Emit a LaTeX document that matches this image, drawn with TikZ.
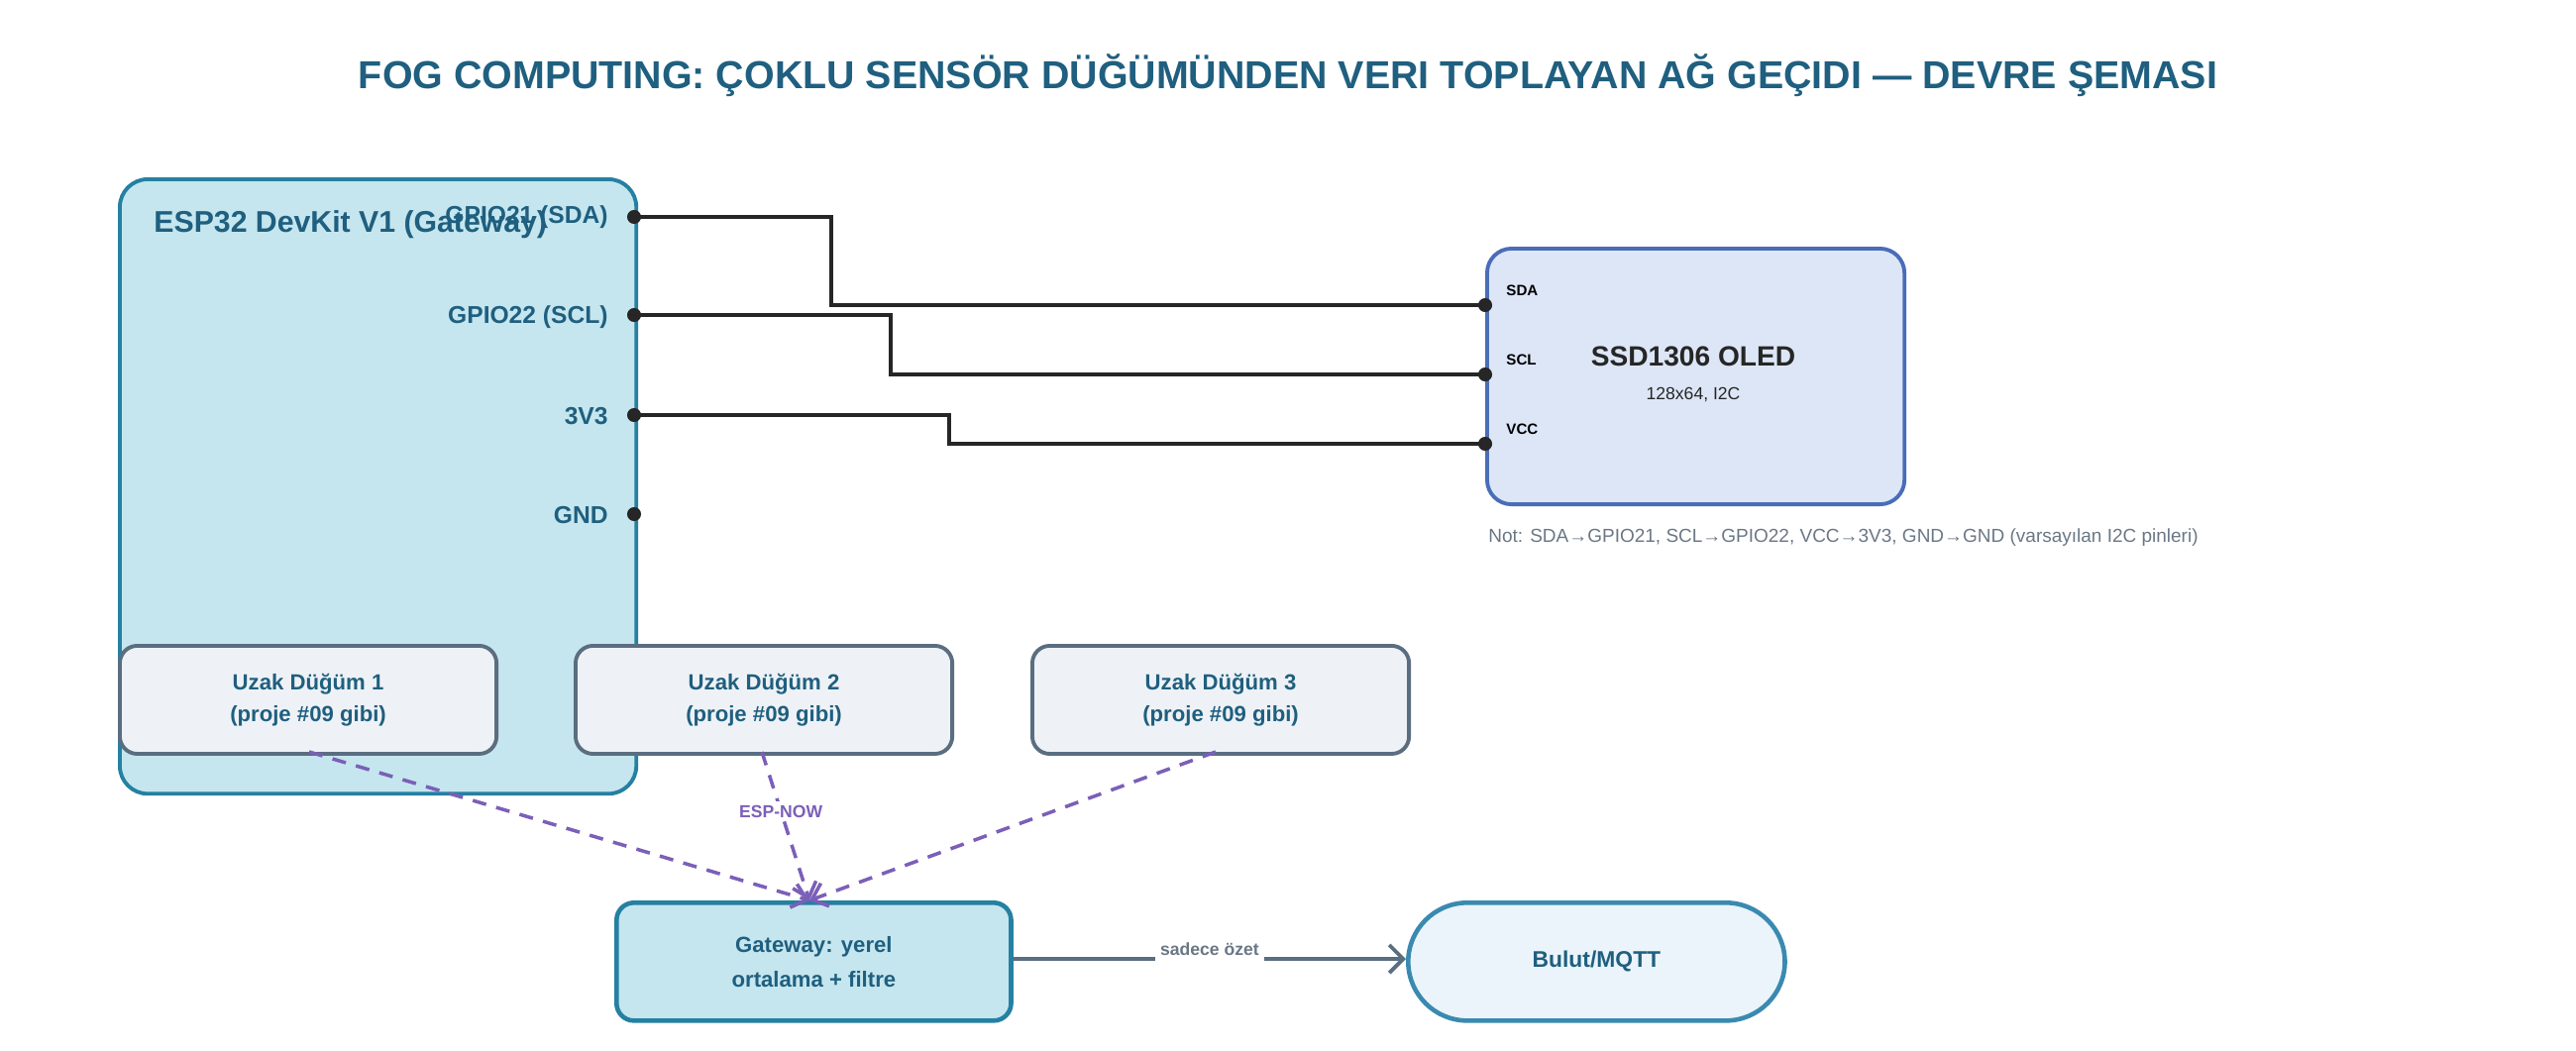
\documentclass[tikz,border=0pt]{standalone}
\usepackage{fontspec}
\setmainfont{Liberation Sans}
\usetikzlibrary{arrows.meta, positioning, calc}

\definecolor{titleblue}{HTML}{1F5F7F}
\definecolor{espfill}{HTML}{C5E6EE}
\definecolor{espdraw}{HTML}{2580A2}
\definecolor{nodefill}{HTML}{EEF2F6}
\definecolor{nodedraw}{HTML}{5A6E80}
\definecolor{oledfill}{HTML}{DDE6F6}
\definecolor{oleddraw}{HTML}{4A6DB8}
\definecolor{cloudfill}{HTML}{EAF4FA}
\definecolor{clouddraw}{HTML}{3A8AB0}
\definecolor{espnow}{HTML}{7B5FB8}
\definecolor{notegray}{HTML}{6A7785}

\begin{document}
\begin{tikzpicture}[
    x=0.01cm, y=-0.01cm,
    board/.style={
        rectangle,
        draw=espdraw,
        fill=espfill,
        line width=1.1pt,
        rounded corners=8pt,
        anchor=north west
    },
    remote_node/.style={
        rectangle,
        draw=nodedraw,
        fill=nodefill,
        line width=1.1pt,
        rounded corners=5pt,
        minimum width=3.8cm,
        minimum height=1.09cm,
        align=center,
        text=titleblue,
        font=\fontsize{6.3}{9}\selectfont\bfseries
    },
    pin_label/.style={
        text=titleblue,
        font=\fontsize{7}{8}\selectfont\bfseries
    },
    oled_pin/.style={
        font=\fontsize{4.3}{5}\selectfont\bfseries,
        anchor=west
    },
    pin_dot/.style={circle, fill=black!85, inner sep=0pt, minimum size=4pt},
    wire/.style={line width=0.9pt, black!85},
    radio/.style={espnow, line width=1pt, dash pattern=on 4pt off 3pt, -{Straight Barb[length=4pt,width=7pt]}},
    arrow/.style={nodedraw, line width=1.1pt, -{Straight Barb[length=4pt,width=8pt]}}
]
    \useasboundingbox (0,0) rectangle (2600,1060);

    % Title
    \node[text=titleblue, font=\fontsize{11.2}{13}\selectfont\bfseries] (title) at (1300,76)
        {FOG COMPUTING: ÇOKLU SENSÖR DÜĞÜMÜNDEN VERI TOPLAYAN AĞ GEÇIDI — DEVRE ŞEMASI};

    % ESP32 board
    \node[board, minimum width=5.21cm, minimum height=6.2cm] (esp) at (119,179) {};
    \node[pin_label, anchor=west, font=\fontsize{8.6}{10}\selectfont\bfseries] (esptitle) at (143,227)
        {ESP32 DevKit V1 (Gateway)};

    % ESP32 pins
    \coordinate (sda) at (640,219);
    \coordinate (scl) at (640,318);
    \coordinate (vcc) at (640,419);
    \coordinate (gnd) at (640,519);
    \node[pin_label, anchor=east] (lsda) at (626,219) {GPIO21 (SDA)};
    \node[pin_label, anchor=east] (lscl) at (626,320) {GPIO22 (SCL)};
    \node[pin_label, anchor=east] (lvcc) at (626,420) {3V3};
    \node[pin_label, anchor=east] (lgnd) at (626,520) {GND};

    % OLED module
    \node[rectangle, draw=oleddraw, fill=oledfill, line width=1.1pt, rounded corners=7pt,
          anchor=north west, minimum width=4.21cm, minimum height=2.58cm] (oled) at (1499,249) {};
    \node[font=\fontsize{8}{9}\selectfont\bfseries, text=black!85] (oledtitle) at (1709,360) {SSD1306 OLED};
    \node[font=\fontsize{5}{6}\selectfont, text=black!85] (oledsub) at (1709,398) {128x64, I2C};
    \coordinate (osda) at (1499,308);
    \coordinate (oscl) at (1499,378);
    \coordinate (ovcc) at (1499,448);
    \node[oled_pin] (losda) at (1508,293) {SDA};
    \node[oled_pin] (loscl) at (1508,363) {SCL};
    \node[oled_pin] (lovcc) at (1508,433) {VCC};
    \node[anchor=west, text=notegray, font=\fontsize{5.4}{6}\selectfont] (note) at (1490,543)
        {Not: SDA→GPIO21, SCL→GPIO22, VCC→3V3, GND→GND (varsayılan I2C pinleri)};

    % Wires
    \draw[wire] (sda) -| (839,308) -- (osda);
    \draw[wire] (scl) -| (899,378) -- (oscl);
    \draw[wire] (vcc) -| (958,448) -- (ovcc);
    \foreach \p in {sda,scl,vcc,gnd,osda,oscl,ovcc}
        \node[pin_dot] at (\p) {};

    % Remote nodes
    \node[remote_node, anchor=north west] (rem1) at (119,650) {Uzak Düğüm 1\\(proje \#09 gibi)};
    \node[remote_node, anchor=north west] (rem2) at (579,650) {Uzak Düğüm 2\\(proje \#09 gibi)};
    \node[remote_node, anchor=north west] (rem3) at (1040,650) {Uzak Düğüm 3\\(proje \#09 gibi)};

    % Gateway and cloud
    \node[rectangle, draw=espdraw, fill=espfill, line width=1.3pt, rounded corners=5pt,
          minimum width=3.98cm, minimum height=1.19cm, align=center, text=titleblue,
          font=\fontsize{6.3}{10}\selectfont\bfseries, anchor=north west] (gw) at (620,909)
          {Gateway: yerel\\ortalama + filtre};
    \node[rectangle, draw=clouddraw, fill=cloudfill, line width=1.3pt, rounded corners=17pt,
          minimum width=3.8cm, minimum height=1.19cm, text=titleblue,
          font=\fontsize{6.5}{8}\selectfont\bfseries, anchor=north west] (cloud) at (1419,909)
          {Bulut/MQTT};

    % ESP-NOW links
    \coordinate (gwin) at (817,909);
    \draw[radio] (312,759) -- (gwin);
    \draw[radio] (1227,759) -- (gwin);
    \draw[radio] (769,759) -- node[pos=0.4, fill=white, inner sep=1pt, font=\fontsize{5}{6}\selectfont\bfseries] {ESP-NOW} (gwin);

    \draw[arrow] (gw.east |- 0,968) -- node[above=-1pt, fill=white, inner sep=1.5pt, font=\fontsize{5}{6}\selectfont\bfseries, text=notegray] {sadece özet} (cloud.west |- 0,968);
\end{tikzpicture}
\end{document}
